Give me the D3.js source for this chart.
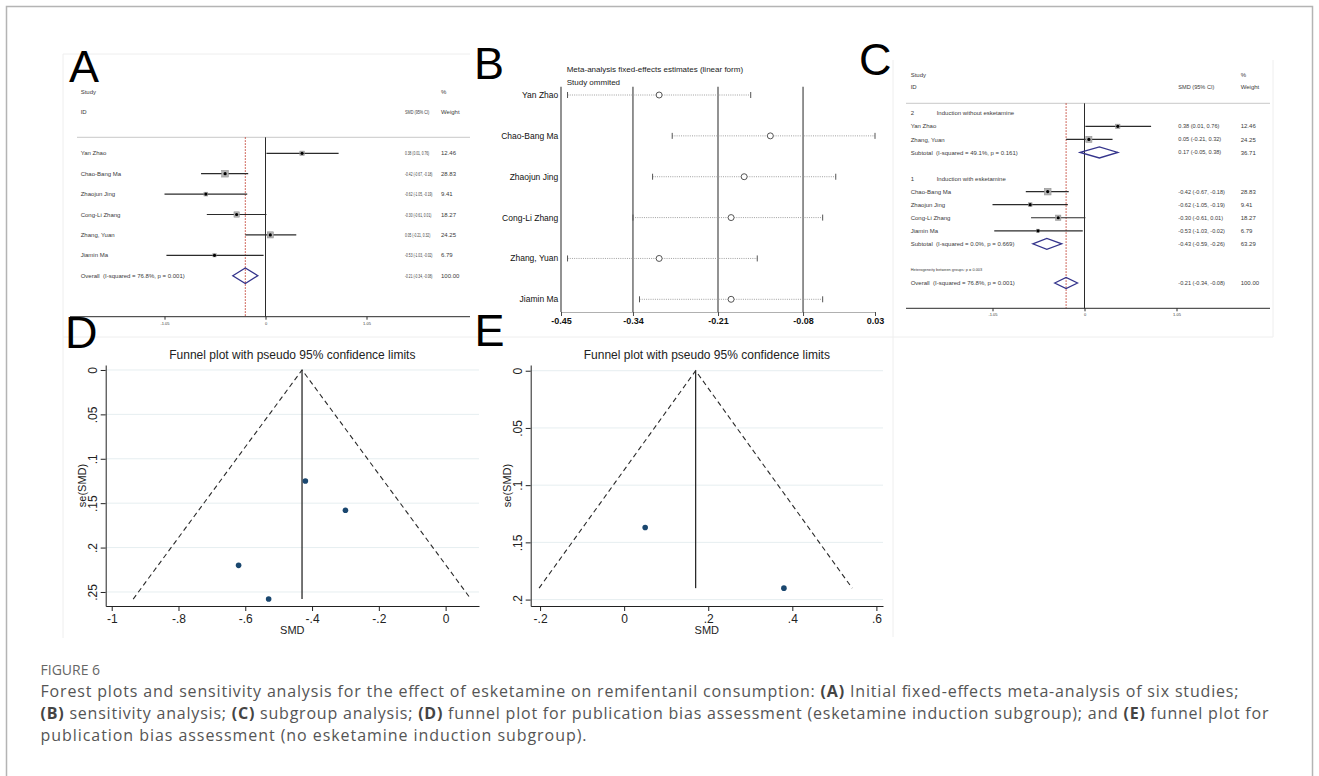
<!DOCTYPE html>
<html>
<head>
<meta charset="utf-8">
<script src="https://cdn.jsdelivr.net/npm/d3@7"></script>
<style>
  body { margin: 0; background: #fff; }
  svg text { font-family: "Liberation Sans", Arial, sans-serif; }
  .caption text { font-family: "Open Sans", "Noto Sans", sans-serif; }
</style>
</head>
<body>
<svg id="fig"></svg>
<script>
// ---- data ----
const studies   = ["Yan Zhao", "Chao-Bang Ma", "Zhaojun Jing", "Cong-Li Zhang", "Zhang, Yuan", "Jiamin Ma"];
const smd       = [0.38, -0.42, -0.62, -0.30, 0.05, -0.53];
const ciLow     = [0.01, -0.67, -1.05, -0.61, -0.21, -1.03];
const ciHigh    = [0.76, -0.18, -0.19, 0.01, 0.32, -0.02];
const weights   = [12.46, 28.83, 9.41, 18.27, 24.25, 6.79];
const overall   = [-0.21, -0.34, -0.08, 100.00];
const overallLabel = "Overall  (I-squared = 76.8%, p = 0.001)";
const forestTicks = [-1.05, 0, 1.05];

// sensitivity analysis (study omitted)
const omitEst   = [-0.30, -0.13, -0.17, -0.19, -0.30, -0.19];
const omitLow   = [-0.44, -0.28, -0.31, -0.34, -0.44, -0.33];
const omitHigh  = [-0.16, 0.03, -0.03, -0.05, -0.15, -0.05];
const sensTicks = [-0.45, -0.34, -0.21, -0.08, 0.03];

// subgroups
const groupIds     = ["2", "1"];
const groupNames   = ["Induction without esketamine", "Induction with esketamine"];
const groupMembers = [[0, 4], [1, 2, 3, 5]];
const subSmd       = [0.17, -0.43];
const subLow       = [-0.05, -0.59];
const subHigh      = [0.38, -0.26];
const subWeight    = [36.71, 63.29];
const subHet       = ["Subtotal  (I-squared = 49.1%, p = 0.161)", "Subtotal  (I-squared = 0.0%, p = 0.669)"];
const betweenHet   = "Heterogeneity between groups: p = 0.003";

// funnel plots
const funnelD = { smd: [-0.42, -0.62, -0.30, -0.53], se: [0.125, 0.22, 0.158, 0.258], pooled: -0.43,
                  xTicks: [-1, -0.8, -0.6, -0.4, -0.2, 0], yTicks: [0, 0.05, 0.1, 0.15, 0.2, 0.25] };
const funnelE = { smd: [0.05, 0.38], se: [0.137, 0.19], pooled: 0.17,
                  xTicks: [-0.2, 0, 0.2, 0.4, 0.6], yTicks: [0, 0.05, 0.1, 0.15, 0.2] };

const captionLines = [
  [["Forest plots and sensitivity analysis for the effect of esketamine on remifentanil consumption: ", 0], ["(A)", 1], [" Initial fixed-effects meta-analysis of six studies;", 0]],
  [["(B)", 1], [" sensitivity analysis; ", 0], ["(C)", 1], [" subgroup analysis; ", 0], ["(D)", 1], [" funnel plot for publication bias assessment (esketamine induction subgroup); and ", 0], ["(E)", 1], [" funnel plot for", 0]],
  [["publication bias assessment (no esketamine induction subgroup).", 0]]
];
const captionWidths = [1198, 1228, 546];

// ---- helpers ----
const f2 = v => v.toFixed(2);
const ciText = (e, l, h) => `${f2(e)} (${f2(l)}, ${f2(h)})`;
const stataFmt = d => {
  if (d === 0) return "0";
  return String(+d.toFixed(2)).replace(/^(-?)0\./, "$1.");
};
const txtColor = "#3a3a3a";

const svg = d3.select("#fig")
    .attr("width", 1319)
    .attr("height", 776);

svg.append("rect")
    .attr("width", 1319).attr("height", 776)
    .attr("fill", "#fff");

// outer frame
svg.append("rect")
    .attr("x", 6.5).attr("y", 6.5)
    .attr("width", 1306).attr("height", 800)
    .attr("fill", "none")
    .attr("stroke", "#b4b4b4")
    .attr("stroke-width", 1.5);

// faint edges of the pasted panels
const edges = [[63, 54, 470, 54], [63, 54, 63, 638], [63, 337, 1273, 337], [893, 60, 893, 637], [1273, 60, 1273, 337]];
svg.selectAll("line.edge").data(edges).join("line")
    .attr("class", "edge")
    .attr("x1", d => d[0]).attr("y1", d => d[1])
    .attr("x2", d => d[2]).attr("y2", d => d[3])
    .attr("stroke", "#eeeeee");

function smallText(g, x, y, s, anchor = "start", size = 6, squeeze = 1) {
  return g.append("text")
      .attr("transform", `translate(${x},${y}) scale(${squeeze},1)`)
      .attr("dy", "0.35em")
      .attr("text-anchor", anchor)
      .style("font-size", size + "px")
      .style("white-space", "pre")
      .attr("fill", txtColor)
      .text(s);
}

function diamond(g, x, y, est, lo, hi, h) {
  g.append("path")
      .attr("d", `M${x(lo)},${y} L${x(est)},${y - h} L${x(hi)},${y} L${x(est)},${y + h} Z`)
      .attr("fill", "none")
      .attr("stroke", "#34348c")
      .attr("stroke-width", 1.3);
}

function studyMark(g, x, y, i) {
  g.append("line")
      .attr("x1", x(ciLow[i])).attr("x2", x(ciHigh[i]))
      .attr("y1", y).attr("y2", y)
      .attr("stroke", "#2b2b2b")
      .attr("stroke-width", 1.2);
  const s = 1.25 * Math.sqrt(weights[i]);
  g.append("rect")
      .attr("x", x(smd[i]) - s / 2).attr("y", y - s / 2)
      .attr("width", s).attr("height", s)
      .attr("fill", "#b3b3b3")
      .attr("stroke", "#8c8c8c")
      .attr("stroke-width", 0.5);
  g.append("circle")
      .attr("cx", x(smd[i])).attr("cy", y)
      .attr("r", 1.6)
      .attr("fill", "#000");
}

function forestAxis(g, x, top, axisY, x0, x1) {
  // null line and overall estimate line
  g.append("line")
      .attr("x1", x(0)).attr("x2", x(0))
      .attr("y1", top).attr("y2", axisY)
      .attr("stroke", "#2b2b2b");
  g.append("line")
      .attr("x1", x(overall[0])).attr("x2", x(overall[0]))
      .attr("y1", top).attr("y2", axisY)
      .attr("stroke", "#c0392b")
      .attr("stroke-dasharray", "1.5,1.5");
  g.append("line")
      .attr("x1", x0).attr("x2", x1)
      .attr("y1", axisY).attr("y2", axisY)
      .attr("stroke", "#2b2b2b");
  const ax = g.append("g")
      .attr("transform", `translate(0,${axisY})`)
      .call(d3.axisBottom(x).tickValues(forestTicks).tickSize(3).tickPadding(2)
          .tickFormat(d => d === 0 ? "0" : f2(d)));
  ax.select(".domain").remove();
  ax.selectAll("line").attr("stroke", "#2b2b2b");
  ax.selectAll("text").style("font-size", "4px").attr("fill", txtColor);
}

// ---- panel A: forest plot ----
function panelA() {
  const g = svg.append("g");
  const x = d3.scaleLinear().domain([-1.05, 1.05]).range([164.5, 366.5]);
  const y = d3.scalePoint().domain(d3.range(studies.length + 1)).range([153.3, 275.7]);
  const sq = 0.55; // the estimate column is squeezed in this panel

  smallText(g, 80.7, 92.3, "Study");
  smallText(g, 80.7, 112.3, "ID");
  smallText(g, 405, 112.3, "SMD (95% CI)", "start", 6, sq + 0.08);
  smallText(g, 441, 91.7, "%");
  smallText(g, 441, 112.3, "Weight");

  g.append("line")
      .attr("x1", 77).attr("x2", 470)
      .attr("y1", 137.3).attr("y2", 137.3)
      .attr("stroke", "#c8c8c8");

  forestAxis(g, x, 137.3, 316.7, 70, 470);

  studies.forEach((s, i) => {
    smallText(g, 80.7, y(i), s);
    studyMark(g, x, y(i), i);
    smallText(g, 405, y(i), ciText(smd[i], ciLow[i], ciHigh[i]), "start", 6, sq);
    smallText(g, 441, y(i), f2(weights[i]));
  });

  const yo = y(studies.length);
  smallText(g, 80.7, yo, overallLabel);
  diamond(g, x, yo, overall[0], overall[1], overall[2], 7.8);
  smallText(g, 405, yo, ciText(overall[0], overall[1], overall[2]), "start", 6, sq);
  smallText(g, 441, yo, f2(overall[3]));
}

// ---- panel B: sensitivity analysis ----
function panelB() {
  const g = svg.append("g");
  const x = d3.scaleLinear().domain([sensTicks[0], sensTicks[sensTicks.length - 1]]).range([561, 875]);
  const y = d3.scalePoint().domain(d3.range(studies.length)).range([95, 299.3]);
  const top = 86.7, bottom = 312;

  g.append("text").attr("x", 566.7).attr("y", 72)
      .style("font-size", "8px").attr("fill", "#1a1a1a")
      .text("Meta-analysis fixed-effects estimates (linear form)");
  g.append("text").attr("x", 566.7).attr("y", 84.5)
      .style("font-size", "8px").attr("fill", "#1a1a1a")
      .text("Study ommited");

  // reference lines at every tick except the last
  g.selectAll("line.ref").data(sensTicks.slice(0, -1)).join("line")
      .attr("x1", d => x(d)).attr("x2", d => x(d))
      .attr("y1", top).attr("y2", bottom)
      .attr("stroke", "#4a4a4a")
      .attr("stroke-width", 1.2);

  const ax = g.append("g")
      .attr("transform", `translate(0,${bottom})`)
      .call(d3.axisBottom(x).tickValues(sensTicks).tickSize(4).tickPadding(2).tickSizeOuter(0)
          .tickFormat(d => f2(d)));
  ax.select(".domain").attr("stroke", "#7a7a7a").attr("stroke-width", 0.6);
  ax.selectAll("line").attr("stroke", "#4a4a4a");
  ax.selectAll("text")
      .style("font-size", "9px").style("font-weight", "bold")
      .attr("fill", "#111");

  studies.forEach((s, i) => {
    g.append("text")
        .attr("x", 558.3).attr("y", y(i)).attr("dy", "0.35em")
        .attr("text-anchor", "end")
        .style("font-size", "8.5px")
        .attr("fill", "#111")
        .text(s);
    g.append("line")
        .attr("x1", x(omitLow[i])).attr("x2", x(omitHigh[i]))
        .attr("y1", y(i)).attr("y2", y(i))
        .attr("stroke", "#a0a0a0")
        .attr("stroke-dasharray", "1,1.2");
    [omitLow[i], omitHigh[i]].forEach(v => {
      g.append("line")
          .attr("x1", x(v)).attr("x2", x(v))
          .attr("y1", y(i) - 3).attr("y2", y(i) + 3)
          .attr("stroke", "#555");
    });
    g.append("circle")
        .attr("cx", x(omitEst[i])).attr("cy", y(i))
        .attr("r", 3)
        .attr("fill", "#fff")
        .attr("stroke", "#555");
  });
}

// ---- panel C: subgroup forest plot ----
function panelC() {
  const g = svg.append("g");
  const x = d3.scaleLinear().domain([-1.05, 1.05]).range([992.5, 1176.5]);
  const y = d3.scalePoint().domain(d3.range(14)).range([113.3, 283]);
  const vs = 5.6;

  smallText(g, 910.7, 75, "Study");
  smallText(g, 910.7, 87, "ID");
  smallText(g, 1178.3, 87, "SMD (95% CI)", "start", vs);
  smallText(g, 1240.7, 75, "%");
  smallText(g, 1240.7, 87, "Weight");

  g.append("line")
      .attr("x1", 906).attr("x2", 1270)
      .attr("y1", 103.3).attr("y2", 103.3)
      .attr("stroke", "#c8c8c8");

  forestAxis(g, x, 103.3, 308.3, 906, 1270);

  let row = 0;
  groupIds.forEach((gid, k) => {
    smallText(g, 910.7, y(row), gid);
    smallText(g, 936.7, y(row), groupNames[k]);
    row++;
    groupMembers[k].forEach(i => {
      smallText(g, 910.7, y(row), studies[i]);
      studyMark(g, x, y(row), i);
      smallText(g, 1178.3, y(row), ciText(smd[i], ciLow[i], ciHigh[i]), "start", vs);
      smallText(g, 1240.7, y(row), f2(weights[i]));
      row++;
    });
    smallText(g, 910.7, y(row), subHet[k]);
    diamond(g, x, y(row), subSmd[k], subLow[k], subHigh[k], 5.5);
    smallText(g, 1178.3, y(row), ciText(subSmd[k], subLow[k], subHigh[k]), "start", vs);
    smallText(g, 1240.7, y(row), f2(subWeight[k]));
    row += 2;
  });

  smallText(g, 910.7, y(row), betweenHet, "start", 3.9);
  row++;
  smallText(g, 910.7, y(row), overallLabel);
  diamond(g, x, y(row), overall[0], overall[1], overall[2], 5.5);
  smallText(g, 1178.3, y(row), ciText(overall[0], overall[1], overall[2]), "start", vs);
  smallText(g, 1240.7, y(row), f2(overall[3]));
}

// ---- panels D, E: funnel plots ----
function funnel(p) {
  const g = svg.append("g");
  const x = d3.scaleLinear().domain(p.xDomain).range(p.xRange);
  const y = d3.scaleLinear().domain(p.yDomain).range(p.yRange);
  const seMax = d3.max(p.data.se);
  const cx = (p.xRange[0] + p.xRange[1]) / 2;
  const cy = (p.yRange[0] + p.yRange[1]) / 2;

  g.selectAll("line.grid").data(p.data.yTicks).join("line")
      .attr("class", "grid")
      .attr("x1", p.xRange[0]).attr("x2", p.xRange[1])
      .attr("y1", d => y(d)).attr("y2", d => y(d))
      .attr("stroke", "#e6eef0");

  // pseudo 95% limits
  const pooled = p.data.pooled;
  g.append("path")
      .attr("d", d3.line()([[x(pooled - 1.96 * seMax), y(seMax)], [x(pooled), y(0)], [x(pooled + 1.96 * seMax), y(seMax)]]))
      .attr("fill", "none")
      .attr("stroke", "#2a2a2a")
      .attr("stroke-width", 1.1)
      .attr("stroke-dasharray", "5,3.5");
  g.append("line")
      .attr("x1", x(pooled)).attr("x2", x(pooled))
      .attr("y1", y(0)).attr("y2", y(seMax))
      .attr("stroke", "#2a2a2a")
      .attr("stroke-width", 1.3);

  g.selectAll("circle").data(p.data.smd).join("circle")
      .attr("cx", d => x(d))
      .attr("cy", (d, i) => y(p.data.se[i]))
      .attr("r", 2.8)
      .attr("fill", "#1a476f");

  const xAx = g.append("g")
      .attr("transform", `translate(0,${p.yRange[1]})`)
      .call(d3.axisBottom(x).tickValues(p.data.xTicks).tickFormat(stataFmt).tickSize(5).tickSizeOuter(0).tickPadding(3));
  const yAx = g.append("g")
      .attr("transform", `translate(${p.xRange[0]},0)`)
      .call(d3.axisLeft(y).tickValues(p.data.yTicks).tickFormat(stataFmt).tickSize(5).tickSizeOuter(0));
  [xAx, yAx].forEach(a => {
    a.select(".domain").attr("stroke", "#222");
    a.selectAll("line").attr("stroke", "#222");
    a.selectAll("text").style("font-size", "12px").attr("fill", "#222");
  });
  yAx.selectAll("text")
      .attr("transform", "rotate(-90)")
      .attr("x", 0).attr("y", -9).attr("dy", 0)
      .attr("text-anchor", "middle");

  g.append("text")
      .attr("x", cx).attr("y", 359)
      .attr("text-anchor", "middle")
      .style("font-size", "12px").attr("fill", "#222")
      .text("Funnel plot with pseudo 95% confidence limits");
  g.append("text")
      .attr("x", cx).attr("y", 634)
      .attr("text-anchor", "middle")
      .style("font-size", "11px").attr("fill", "#222")
      .text("SMD");
  g.append("text")
      .attr("transform", `translate(${p.xRange[0] - 19.5},${cy}) rotate(-90)`)
      .attr("text-anchor", "middle")
      .style("font-size", "11px").attr("fill", "#222")
      .text("se(SMD)");
}

panelA();
panelB();
panelC();
funnel({ data: funnelD, xDomain: [-1.018, 0.10], xRange: [105.7, 479], yDomain: [-0.0056, 0.2658], yRange: [365, 606] });
funnel({ data: funnelE, xDomain: [-0.2223, 0.6157], xRange: [530.7, 883], yDomain: [-0.005, 0.2056], yRange: [365, 606] });

// panel letters
const letters = [["A", 69, 82], ["B", 474, 79], ["C", 859, 75], ["D", 65, 348], ["E", 474.5, 346]];
svg.selectAll("text.letter").data(letters).join("text")
    .attr("class", "letter")
    .attr("x", d => d[1]).attr("y", d => d[2])
    .style("font-size", "45px")
    .attr("fill", "#000")
    .text(d => d[0]);

// caption
const cap = svg.append("g").attr("class", "caption");
cap.append("text")
    .attr("x", 40.5).attr("y", 675)
    .style("font-size", "14px")
    .attr("fill", "#666")
    .text("FIGURE 6");
captionLines.forEach((parts, li) => {
  const t = cap.append("text")
      .attr("x", 40.5).attr("y", 697 + li * 22)
      .attr("textLength", captionWidths[li])
      .attr("lengthAdjust", "spacing")
      .style("font-size", "16px")
      .attr("fill", "#555");
  parts.forEach(([s, b]) => {
    t.append("tspan")
        .style("font-weight", b ? "700" : "400")
        .attr("fill", b ? "#444" : "#555")
        .text(s);
  });
});
</script>
</body>
</html>
